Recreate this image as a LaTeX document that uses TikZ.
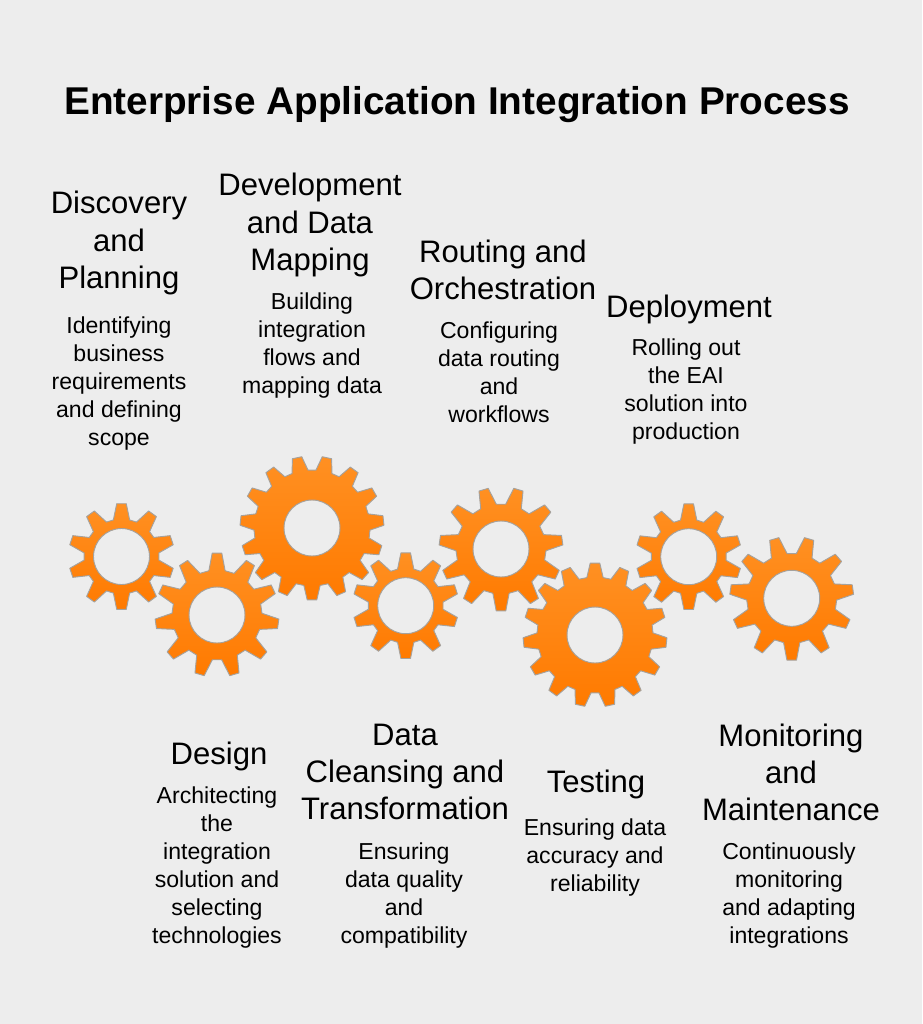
\documentclass[tikz,border=0pt]{standalone}
\usepackage{fontspec}
\setmainfont{Liberation Sans}
\usepackage{tikz}
\definecolor{pagegray}{HTML}{EDEDED}
\definecolor{gearline}{HTML}{A5A29E}
\definecolor{geartop}{HTML}{FF9022}
\definecolor{gearbottom}{HTML}{FF7A00}
\tikzstyle{titletext}=[font=\fontsize{29.05}{34}\selectfont\bfseries,inner sep=0pt]
\tikzstyle{headtext}=[font=\fontsize{23.3}{27.8}\selectfont,align=center,inner sep=0pt]
\tikzstyle{desctext}=[font=\fontsize{17.3}{21}\selectfont,align=center,inner sep=0pt]
\tikzstyle{gearbody}=[draw=gearline,line width=0.7pt,line join=round,even odd rule,top color=geartop,bottom color=gearbottom]
% x, y, teeth, outer radius, root radius, angle of first tooth
\newcommand{\drawgear}[6]{
  \pgfmathsetmacro{\pitch}{360/#3}
  \pgfmathsetmacro{\tipw}{deg(4.8/#4)}
  \pgfmathsetmacro{\rootw}{deg(8.2/#5)}
  \path[gearbody,shift={(#1,#2)}] (#6-\rootw:#5)
    \foreach \k in {1,...,#3} {
      -- (#6+\k*\pitch-\pitch-\tipw:#4) -- (#6+\k*\pitch-\pitch+\tipw:#4)
      -- (#6+\k*\pitch-\pitch+\rootw:#5) -- (#6+\k*\pitch-\rootw:#5)
    } -- cycle (0,0) circle (28);
}
\begin{document}
\begin{tikzpicture}[x=0.75pt,y=-0.75pt]
  \fill[pagegray] (0,0) rectangle (922,1024);
  \useasboundingbox (0,0) rectangle (922,1024);
  \node[titletext] (title) at (457,105) {Enterprise Application Integration Process};
  % gears
  \drawgear{121.5}{556.5}{10}{53}{37.5}{90}
  \drawgear{217}{615}{11}{62}{45}{-90}
  \drawgear{312}{528}{15}{72}{58}{90}
  \drawgear{405.7}{605.7}{10}{53}{37.5}{90}
  \drawgear{501}{549}{11}{62}{45}{90}
  \drawgear{595}{635}{15}{72}{58}{-90}
  \drawgear{688.7}{556.7}{10}{53}{37.5}{90}
  \drawgear{791.7}{598.3}{11}{62}{45}{90}
  % upper labels
  \node[headtext] (discovery) at (119,243) {Discovery\\and\\Planning};
  \node[desctext] (discoverytext) at (119,384) {Identifying\\business\\requirements\\and defining\\scope};
  \node[headtext] (development) at (310,225) {Development\\and Data\\Mapping};
  \node[desctext] (developmenttext) at (312,346) {Building\\integration\\flows and\\mapping data};
  \node[headtext] (routing) at (503,270) {Routing and\\Orchestration};
  \node[desctext] (routingtext) at (499,372) {Configuring\\data routing\\and\\workflows};
  \node[headtext] (deployment) at (689,309) {Deployment};
  \node[desctext] (deploymenttext) at (686,392) {Rolling out\\the EAI\\solution into\\production};
  % lower labels
  \node[headtext] (design) at (219,756) {Design};
  \node[desctext] (designtext) at (217,868) {Architecting\\the\\integration\\solution and\\selecting\\technologies};
  \node[headtext] (cleansing) at (405,772) {Data\\Cleansing and\\Transformation};
  \node[desctext] (cleansingtext) at (404,896) {Ensuring\\data quality\\and\\compatibility};
  \node[headtext] (testing) at (596,784) {Testing};
  \node[desctext] (testingtext) at (595,858) {Ensuring data\\accuracy and\\reliability};
  \node[headtext] (monitoring) at (791,772) {Monitoring\\and\\Maintenance};
  \node[desctext] (monitoringtext) at (789,896) {Continuously\\monitoring\\and adapting\\integrations};
\end{tikzpicture}
\end{document}
